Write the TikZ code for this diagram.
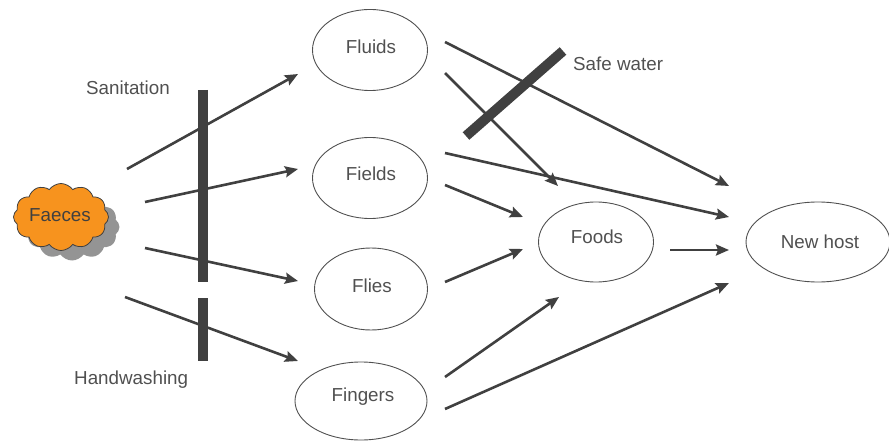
\documentclass[tikz,border=0pt]{standalone}
\usepackage{fontspec}
\setmainfont{Liberation Sans}
\usetikzlibrary{arrows.meta,shapes.symbols,shapes.geometric}
\definecolor{linec}{HTML}{404040}
\definecolor{textc}{HTML}{505050}
\definecolor{faeceor}{HTML}{F7931E}
\begin{document}
\begin{tikzpicture}[x=1pt,y=-1pt,
  every node/.style={font=\fontsize{18.8}{21}\selectfont, text=textc},
  oval/.style={ellipse, draw=textc, line width=0.9pt, inner sep=0pt},
  arr/.style={draw=linec, line width=2.6pt, -{Stealth[length=13pt,width=11pt,inset=2pt]}},
  barrier/.style={draw=linec, line width=10pt},
  cloudshape/.style={cloud, cloud puffs=12, cloud puff arc=110, aspect=1.4, minimum width=95pt, minimum height=67pt},
  lbl/.style={anchor=west, inner sep=0pt}]
\useasboundingbox (0,0) rectangle (889,441);
% nodes
\node[oval, minimum width=115pt, minimum height=81pt] (fluids) at (370,50) {};
\node at (371,47) {Fluids};
\node[oval, minimum width=115pt, minimum height=81pt] (fields) at (370,178) {};
\node at (371,174) {Fields};
\node[oval, minimum width=113pt, minimum height=82pt] (flies) at (371,289) {};
\node at (372,286) {Flies};
\node[oval, minimum width=132pt, minimum height=78pt] (fingers) at (361,401) {};
\node at (363,397) {Fingers};
\node[oval, minimum width=115pt, minimum height=80pt] (foods) at (596,242) {};
\node at (597,237) {Foods};
\node[oval, minimum width=144pt, minimum height=80pt] (newhost) at (818,242) {};
\node at (820,242) {New host};
% faeces cloud with shadow
\node[cloudshape, fill=black!42, draw=none] (faecesshadow) at (72,227) {};
\node[cloudshape, fill=faeceor, draw=linec, line width=0.8pt] (faeces) at (61,217) {};
\node[text=black!75] at (60,215) {Faeces};
% labels
\node[lbl] (sanit) at (86,88) {Sanitation};
\node[lbl] (handw) at (74,380) {Handwashing};
\node[lbl] (safew) at (573,64) {Safe water};
% barriers
\coordinate (sanTop) at (202.5,90);
\coordinate (sanBot) at (202.5,282);
\coordinate (hwTop) at (202.5,298);
\coordinate (hwBot) at (202.5,361);
\coordinate (swA) at (466,136);
\coordinate (swB) at (563,51);
\draw[barrier] (sanTop) -- (sanBot);
\draw[barrier] (hwTop) -- (hwBot);
\draw[barrier] (swA) -- (swB);
% arrow endpoints
\coordinate (a1s) at (127,169); \coordinate (a1e) at (298,74);
\coordinate (a2s) at (145,202); \coordinate (a2e) at (298,169);
\coordinate (a3s) at (145,248); \coordinate (a3e) at (298,281);
\coordinate (a4s) at (125,297); \coordinate (a4e) at (298,361);
\coordinate (a5s) at (445,42);  \coordinate (a5e) at (729,186);
\coordinate (a6s) at (445,73);  \coordinate (a6e) at (558,186);
\coordinate (a7s) at (445,153); \coordinate (a7e) at (729,217);
\coordinate (a8s) at (445,185); \coordinate (a8e) at (523,217);
\coordinate (a9s) at (445,282); \coordinate (a9e) at (523,249);
\coordinate (a10s) at (445,377); \coordinate (a10e) at (559,297);
\coordinate (a11s) at (445,409); \coordinate (a11e) at (729,283);
\coordinate (a12s) at (670,250); \coordinate (a12e) at (729,250);
\draw[arr] (a1s) -- (a1e);
\draw[arr] (a2s) -- (a2e);
\draw[arr] (a3s) -- (a3e);
\draw[arr] (a4s) -- (a4e);
\draw[arr] (a5s) -- (a5e);
\draw[arr] (a6s) -- (a6e);
\draw[arr] (a7s) -- (a7e);
\draw[arr] (a8s) -- (a8e);
\draw[arr] (a9s) -- (a9e);
\draw[arr] (a10s) -- (a10e);
\draw[arr] (a11s) -- (a11e);
\draw[arr] (a12s) -- (a12e);
\end{tikzpicture}
\end{document}
